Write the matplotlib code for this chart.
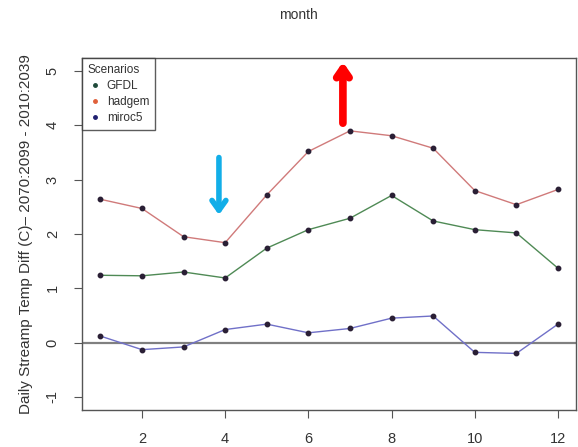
import matplotlib
matplotlib.use("Agg")
import matplotlib.pyplot as plt

# monthly difference in daily stream temperature (C), 2070:2099 vs 2010:2039
months = list(range(1, 13))
gfdl = [1.24, 1.23, 1.30, 1.19, 1.74, 2.08, 2.29, 2.71, 2.24, 2.08, 2.02, 1.37]
hadgem = [2.64, 2.47, 1.95, 1.84, 2.72, 3.52, 3.90, 3.81, 3.58, 2.80, 2.54, 2.82]
miroc5 = [0.12, -0.13, -0.08, 0.24, 0.34, 0.18, 0.26, 0.45, 0.49, -0.18, -0.20, 0.34]

series = [("GFDL", gfdl, "#4f8a55", "#1f4a3a"),
          ("hadgem", hadgem, "#d07a7a", "#e0603a"),
          ("miroc5", miroc5, "#7070c8", "#202070")]

xticks = [2, 4, 6, 8, 10, 12]
yticks = [-1, 0, 1, 2, 3, 4, 5]

plt.rcParams["font.family"] = ["Liberation Sans", "DejaVu Sans"]

fig = plt.figure(figsize=(5.78, 4.47), dpi=100)
ax = fig.add_axes([0.142, 0.083, 0.855, 0.787])

ax.axhline(0, color="#808080", lw=1.6, zorder=1)

for name, vals, lc, mc in series:
    ax.plot(months, vals, color=lc, lw=1.0, zorder=2)
    ax.plot(months, vals, ls="none", marker="o", ms=3.2, color="#2a1f35",
            mec="#2a1f35", zorder=3)
    # legend proxy
    ax.plot([], [], ls="none", marker="o", ms=2.5, color=mc, label=name)

ax.set_xlim(0.56, 12.44)
ax.set_ylim(-1.24, 5.24)
ax.set_xticks(xticks)
ax.set_yticks(yticks)
ax.set_xticklabels([str(t) for t in xticks], fontsize=10.5, color="#333333")
ax.set_yticklabels([str(t) for t in yticks], fontsize=10.5, color="#333333",
                   rotation=90, va="center")
ax.tick_params(direction="out", length=6, width=0.8, color="#555555", pad=10)
for sp in ax.spines.values():
    sp.set_color("#555555")
    sp.set_linewidth(1.0)

ax.set_ylabel("Daily Streamp Temp Diff (C)\u2013 2070:2099 - 2010:2039",
              fontsize=11, color="#333333", labelpad=9)
fig.text(0.516, 0.966, "month", ha="center", va="center", fontsize=10,
         color="#333333")

leg = ax.legend(title="Scenarios", loc="upper left", fontsize=8.5,
                title_fontsize=8.5, frameon=True, fancybox=False,
                borderaxespad=0, handletextpad=0.4, handlelength=1.2,
                borderpad=0.5, labelspacing=0.35)
leg._legend_box.align = "left"
leg.get_frame().set_edgecolor("#333333")
leg.get_frame().set_linewidth(1.0)
for t in leg.get_texts():
    t.set_color("#333333")
leg.get_title().set_color("#333333")

# highlight arrows
ax.annotate("", xy=(3.85, 2.30), xytext=(3.85, 3.46),
            arrowprops=dict(arrowstyle="->,head_length=0.7,head_width=0.5",
                            color="#12aee8", lw=4.0))
ax.annotate("", xy=(6.83, 5.22), xytext=(6.83, 3.99),
            arrowprops=dict(arrowstyle="->,head_length=0.65,head_width=0.45",
                            color="#ff0000", lw=5.5))

fig.savefig("out.png", dpi=100)
